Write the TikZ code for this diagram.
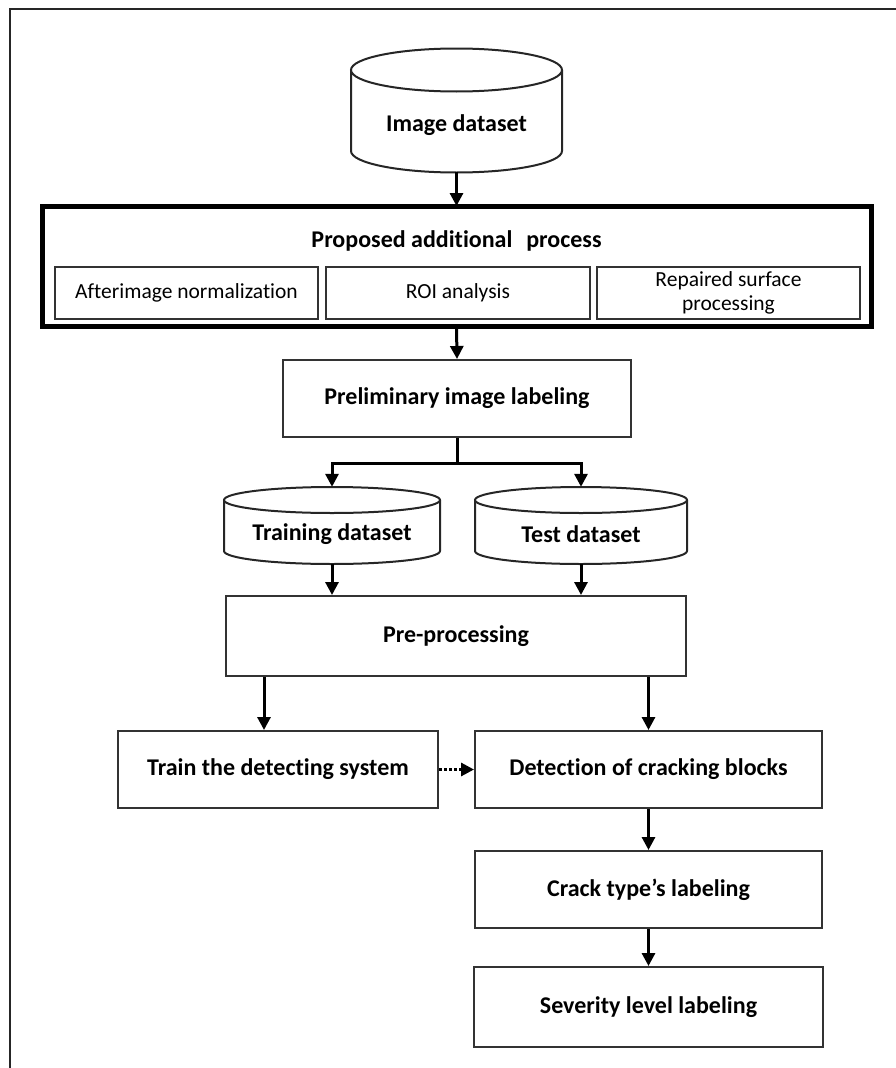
\documentclass[tikz,border=0pt]{standalone}
\usepackage{fontspec}
\setmainfont{Carlito}[Ligatures=NoCommon]
\usetikzlibrary{arrows.meta,calc}
\begin{document}
\begin{tikzpicture}[x=1pt,y=-1pt,
  box/.style={draw=black!80, line width=2pt, inner sep=0pt, align=center,
              font=\bfseries\fontsize{24}{28}\selectfont},
  subbox/.style={draw=black!80, line width=1.8pt, inner sep=0pt, align=center,
              font=\fontsize{21.5}{24}\selectfont},
  bigbox/.style={draw=black, line width=5pt, inner sep=0pt},
  lbl/.style={inner sep=0pt, align=center, font=\bfseries\fontsize{24}{28}\selectfont},
  cylnode/.style={draw=none, inner sep=0pt},
  cyl/.style={draw=black!85, line width=2pt, fill=white},
  arr/.style={-{Triangle[length=13pt,width=13pt]}, line width=3pt, black},
  conn/.style={line width=3pt, black}]
\useasboundingbox (0,0) rectangle (896,1068);
% outer frame
\draw[line width=2.4pt, black!85] (10,1080) -- (10,9) -- (910,9);

% Image dataset cylinder
\draw[cyl] (351,70) -- (351,151) arc[start angle=180,end angle=360,x radius=105.5pt,y radius=21.5pt] -- (562,70);
\draw[cyl] (456.5,70) ellipse[x radius=105.5pt, y radius=21.5pt];
\node[cylnode, minimum width=211pt, minimum height=123pt] (imgds) at (456.5,110.5) {};
\node[lbl] (imgt) at (456.5,125) {Image dataset};

% Proposed additional process
\node[bigbox, minimum width=829pt, minimum height=120pt] (addl) at (456.5,266) {};
\node[lbl] (addlt) at (456.5,241) {Proposed additional\hspace{0.35em} process};
\node[subbox, minimum width=263pt, minimum height=52pt] (s1) at (186.5,293) {Afterimage normalization};
\node[subbox, minimum width=264pt, minimum height=52pt] (s2) at (458,293) {ROI analysis};
\node[subbox, minimum width=263pt, minimum height=52pt] (s3) at (728.5,293) {Repaired surface\\[-0.5pt]processing};

% Preliminary image labeling
\node[box, minimum width=348pt, minimum height=77pt] (prel) at (457,398.5) {Preliminary image labeling};

% Training / test cylinders
\draw[cyl] (224,500) -- (224,551) arc[start angle=180,end angle=360,x radius=108pt,y radius=13pt] -- (440,500);
\draw[cyl] (332,500) ellipse[x radius=108pt, y radius=13pt];
\node[cylnode, minimum width=216pt, minimum height=77pt] (trainds) at (332,525.5) {};
\node[lbl] (traint) at (332,534) {Training dataset};

\draw[cyl] (475,500) -- (475,551) arc[start angle=180,end angle=360,x radius=106pt,y radius=13pt] -- (687,500);
\draw[cyl] (581,500) ellipse[x radius=106pt, y radius=13pt];
\node[cylnode, minimum width=212pt, minimum height=77pt] (testds) at (581,525.5) {};
\node[lbl] (testt) at (581,534) {Test dataset};

% Pre-processing
\node[box, minimum width=460pt, minimum height=80pt] (pre) at (456,636) {Pre-processing};

% Train and detection
\node[box, minimum width=320pt, minimum height=77pt] (trn) at (278,769.5) {Train the detecting system};
\node[box, minimum width=347pt, minimum height=77pt] (det) at (648.5,769.5) {Detection of cracking blocks};
\node[box, minimum width=347pt, minimum height=77pt] (crk) at (648.5,889.5) {Crack type’s labeling};
\node[box, minimum width=349pt, minimum height=80pt] (sev) at (648.5,1007) {Severity level labeling};

% connectors
\draw[arr] (imgds.south) -- ([yshift=-2.5pt]addl.north);
\draw[arr] ([yshift=2.5pt]addl.south) -- (prel.north);
\coordinate (br) at ($(prel.south)+(0,25)$);
\draw[conn] (prel.south) -- (br);
\draw[arr] ([xshift=1.5pt]br) -| (trainds.north);
\draw[arr] ([xshift=-1.5pt]br) -| (testds.north);
\draw[arr] (trainds.south) -- (trainds.south |- pre.north);
\draw[arr] (testds.south) -- (testds.south |- pre.north);
\draw[arr] ([xshift=39pt]pre.south west) -- ([xshift=39pt]pre.south west |- trn.north);
\draw[arr] (pre.south -| det.north) -- (det.north);
\draw[arr, dotted] (trn.east) -- (det.west);
\draw[arr] (det.south) -- (crk.north);
\draw[arr] (crk.south) -- (sev.north);
\end{tikzpicture}
\end{document}
